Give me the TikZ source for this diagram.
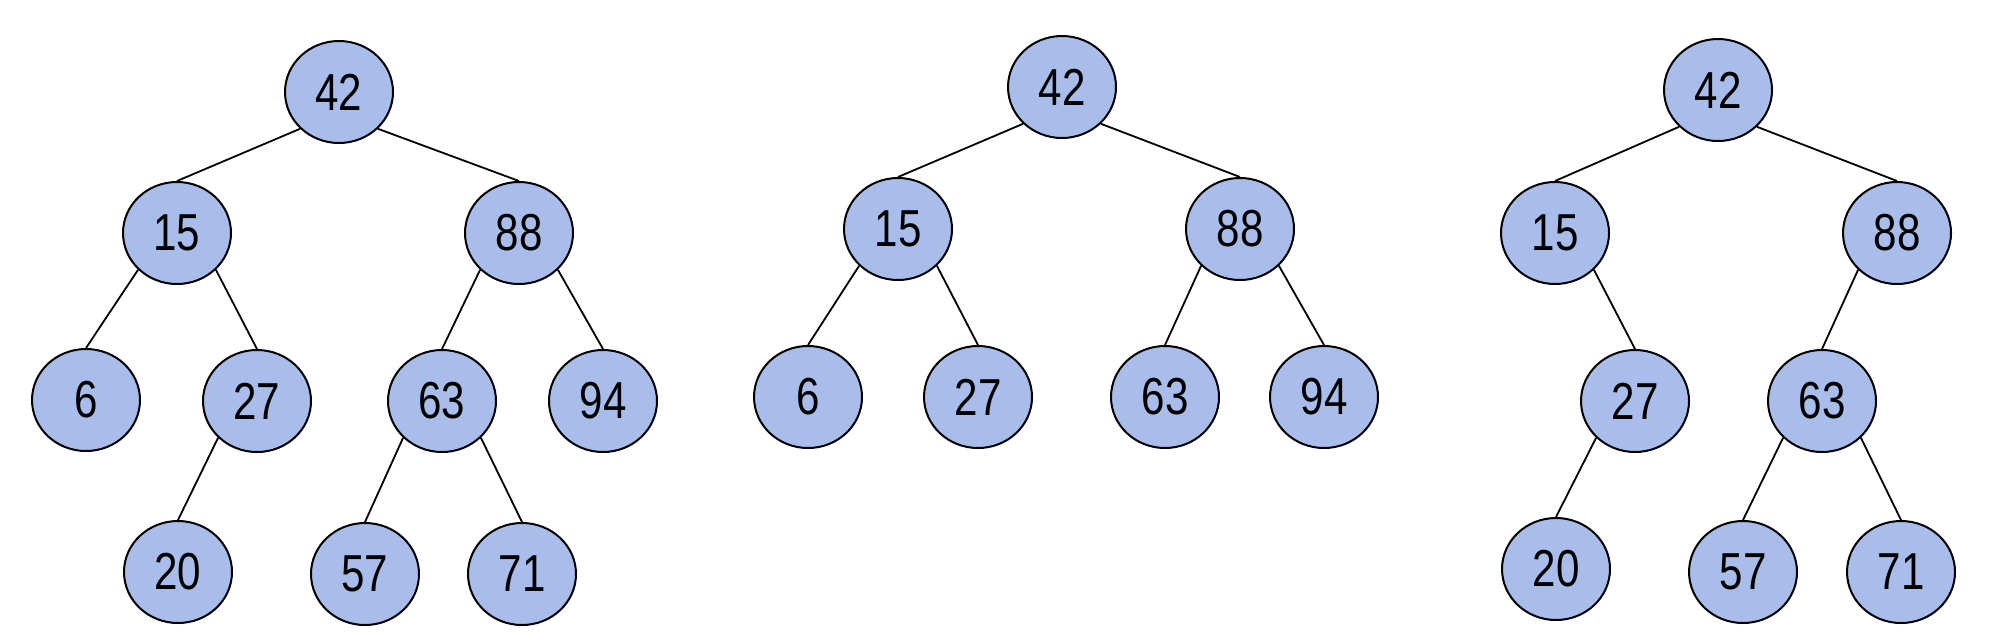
\documentclass[tikz,border=0pt]{standalone}
\usepackage{fontspec}
\setmainfont[FakeStretch=0.81]{Liberation Sans}
\usetikzlibrary{shapes.geometric}
\definecolor{nodefill}{RGB}{168,189,234}
\begin{document}
\begin{tikzpicture}[x=0.5pt,y=-0.5pt,
  tnode/.style={ellipse,draw=black,line width=1pt,fill=nodefill,minimum width=54pt,minimum height=51pt,inner sep=0pt,font=\fontsize{26pt}{30pt}\selectfont},
  tedge/.style={draw=black,line width=0.9pt}]
\useasboundingbox (0,0) rectangle (1990,638);
% Tree 1
\node[tnode] (a42) at (339,92) {42};
\node[tnode] (a15) at (177,233) {15};
\node[tnode] (a88) at (519,233) {88};
\node[tnode] (a6) at (86,400) {6};
\node[tnode] (a27) at (257,401) {27};
\node[tnode] (a63) at (442,401) {63};
\node[tnode] (a94) at (603,401) {94};
\node[tnode] (a20) at (178,572) {20};
\node[tnode] (a57) at (365,574) {57};
\node[tnode] (a71) at (522,574) {71};
\draw[tedge] (a42.south west) -- (a15.north);
\draw[tedge] (a42.south east) -- (a88.north);
\draw[tedge] (a15.south west) -- (a6.north);
\draw[tedge] (a15.south east) -- (a27.north);
\draw[tedge] (a88.south west) -- (a63.north);
\draw[tedge] (a88.south east) -- (a94.north);
\draw[tedge] (a27.south west) -- (a20.north);
\draw[tedge] (a63.south west) -- (a57.north);
\draw[tedge] (a63.south east) -- (a71.north);
% Tree 2
\node[tnode] (b42) at (1062,87) {42};
\node[tnode] (b15) at (898,229) {15};
\node[tnode] (b88) at (1240,229) {88};
\node[tnode] (b6) at (808,397) {6};
\node[tnode] (b27) at (978,397) {27};
\node[tnode] (b63) at (1165,397) {63};
\node[tnode] (b94) at (1324,397) {94};
\draw[tedge] (b42.south west) -- (b15.north);
\draw[tedge] (b42.south east) -- (b88.north);
\draw[tedge] (b15.south west) -- (b6.north);
\draw[tedge] (b15.south east) -- (b27.north);
\draw[tedge] (b88.south west) -- (b63.north);
\draw[tedge] (b88.south east) -- (b94.north);
% Tree 3
\node[tnode] (c42) at (1718,90) {42};
\node[tnode] (c15) at (1555,233) {15};
\node[tnode] (c88) at (1897,233) {88};
\node[tnode] (c27) at (1635,401) {27};
\node[tnode] (c63) at (1822,401) {63};
\node[tnode] (c20) at (1556,569) {20};
\node[tnode] (c57) at (1743,572) {57};
\node[tnode] (c71) at (1901,572) {71};
\draw[tedge] (c42.south west) -- (c15.north);
\draw[tedge] (c42.south east) -- (c88.north);
\draw[tedge] (c15.south east) -- (c27.north);
\draw[tedge] (c88.south west) -- (c63.north);
\draw[tedge] (c27.south west) -- (c20.north);
\draw[tedge] (c63.south west) -- (c57.north);
\draw[tedge] (c63.south east) -- (c71.north);
\end{tikzpicture}
\end{document}
